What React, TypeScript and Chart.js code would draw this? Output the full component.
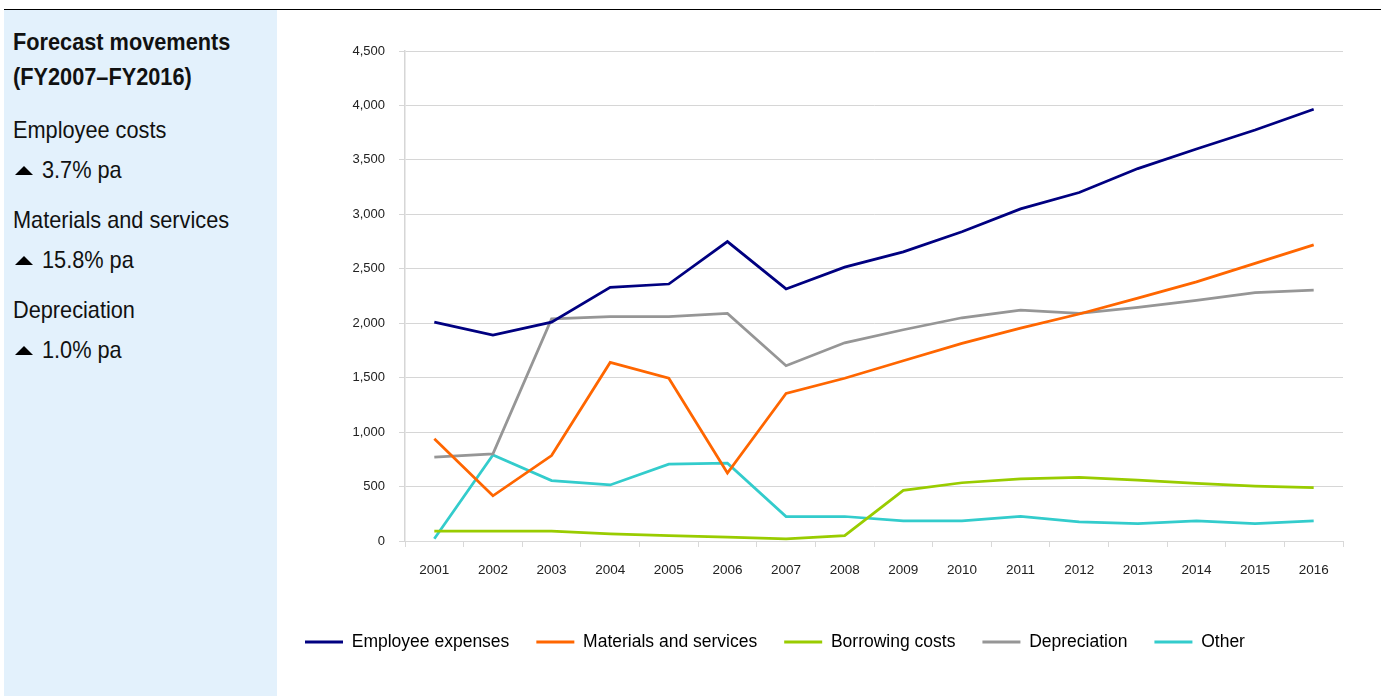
import React, { useEffect, useRef } from "react";
import { Chart, registerables } from "chart.js";

Chart.register(...registerables);

const years = ["2001","2002","2003","2004","2005","2006","2007","2008","2009","2010","2011","2012","2013","2014","2015","2016"];
const employeeExpenses = [2010, 1890, 2010, 2330, 2360, 2750, 2315, 2515, 2655, 2840, 3050, 3200, 3420, 3600, 3775, 3965];
const materialsServices = [940, 415, 785, 1640, 1495, 625, 1355, 1495, 1655, 1815, 1955, 2085, 2230, 2380, 2550, 2720];
const borrowingCosts = [90, 90, 90, 65, 50, 35, 20, 50, 465, 535, 570, 585, 560, 530, 505, 490];
const depreciation = [770, 800, 2040, 2060, 2060, 2090, 1610, 1820, 1940, 2050, 2120, 2090, 2145, 2210, 2280, 2305];
const other = [20, 790, 555, 515, 705, 715, 225, 225, 185, 185, 225, 175, 160, 185, 160, 185];
const yTicks = [0, 500, 1000, 1500, 2000, 2500, 3000, 3500, 4000, 4500];

const seriesNames = ["Employee expenses", "Materials and services", "Borrowing costs", "Depreciation", "Other"];
const seriesColors = ["#000080", "#FF6600", "#99CC00", "#969696", "#33CCCC"];

const sideHeading = ["Forecast movements", "(FY2007–FY2016)"];
const sideItems = [
  { label: "Employee costs", change: "3.7% pa" },
  { label: "Materials and services", change: "15.8% pa" },
  { label: "Depreciation", change: "1.0% pa" },
];

const CANVAS_LEFT = 278;
const CANVAS_TOP = 10;
const CANVAS_W = 1103;
const CANVAS_H = 686;

export default function App() {
  const ref = useRef<HTMLCanvasElement | null>(null);

  useEffect(() => {
    if (!ref.current) return;
    const allSeries = [employeeExpenses, materialsServices, borrowingCosts, depreciation, other];
    const chart = new Chart(ref.current, {
      type: "line",
      data: {
        labels: years,
        datasets: allSeries.map((d, i) => ({
          label: seriesNames[i],
          data: d,
          borderColor: seriesColors[i],
          backgroundColor: seriesColors[i],
          borderWidth: 2.75,
          pointRadius: 0,
          tension: 0,
          fill: false,
        })),
      },
      options: {
        responsive: false,
        animation: false,
        devicePixelRatio: 1,
        layout: { padding: { left: 0, right: 38, top: 41, bottom: 35.25 } },
        plugins: {
          tooltip: { enabled: false },
          legend: {
            position: "bottom",
            align: "start",
            labels: {
              boxWidth: 38,
              boxHeight: 3,
              padding: 27,
              color: "#000",
              font: { family: "'Liberation Sans', Arial, sans-serif", size: 17.5 },
              generateLabels: (c: any) =>
                (Chart.defaults.plugins.legend.labels as any).generateLabels(c).map((l: any) => ({
                  ...l,
                  lineWidth: 0,
                  fillStyle: l.strokeStyle,
                })),
            },
          },
        },
        scales: {
          x: {
            offset: true,
            grid: {
              offset: true,
              drawOnChartArea: false,
              drawTicks: true,
              tickLength: 6,
              color: "#D9D9D9",
            },
            border: { color: "#D9D9D9", width: 1 },
            ticks: {
              color: "#222",
              padding: 15,
              maxRotation: 0,
              autoSkip: false,
              font: { family: "'Liberation Sans', Arial, sans-serif", size: 13.5 },
            },
            afterFit: (s: any) => {
              s.height = 65.25;
            },
          },
          y: {
            min: 0,
            max: 4500,
            afterBuildTicks: (s: any) => {
              s.ticks = yTicks.map((v) => ({ value: v }));
            },
            grid: {
              color: "#D6D6D6",
              drawTicks: true,
              tickLength: 6,
            },
            border: { color: "#D6D6D6", width: 1.5 },
            ticks: {
              color: "#222",
              padding: 14,
              font: { family: "'Liberation Sans', Arial, sans-serif", size: 13 },
              callback: (v: any) => Number(v).toLocaleString("en-US"),
            },
            afterFit: (s: any) => {
              s.width = 127;
            },
          },
        },
      },
    });
    return () => chart.destroy();
  }, []);

  const font = "'Liberation Sans', Arial, sans-serif";
  const fs = 24;
  const headingCenters = [42, 77];
  const labelCenters = [130, 220, 310];
  const changeCenters = [170, 260, 350];
  const textStyle = (center: number, left: number, bold = false): React.CSSProperties => ({
    position: "absolute",
    left,
    top: center - 11.7,
    fontSize: fs,
    lineHeight: `${fs}px`,
    fontWeight: bold ? "bold" : "normal",
    color: "#111",
    whiteSpace: "nowrap",
    transform: "scaleX(0.905)",
    transformOrigin: "left center",
  });

  return (
    <div style={{ position: "absolute", left: 0, top: 0, width: 1381, height: 696, overflow: "hidden", background: "#fff", fontFamily: font }}>
      <div style={{ position: "absolute", left: 4, top: 9, width: 1377, height: 1, background: "#000" }} />
      <div style={{ position: "absolute", left: 4, top: 10, width: 273, height: 686, background: "#E3F1FC" }} />
      {sideHeading.map((t, i) => (
        <div key={t} style={textStyle(headingCenters[i], 13, true)}>{t}</div>
      ))}
      {sideItems.map((it, i) => (
        <React.Fragment key={it.label}>
          <div style={textStyle(labelCenters[i], 13)}>{it.label}</div>
          <div style={{ position: "absolute", left: 15, top: changeCenters[i] - 4.5, width: 0, height: 0, borderLeft: "9px solid transparent", borderRight: "9px solid transparent", borderBottom: "9px solid #000" }} />
          <div style={textStyle(changeCenters[i], 42)}>{it.change}</div>
        </React.Fragment>
      ))}
      <canvas ref={ref} width={CANVAS_W} height={CANVAS_H} style={{ position: "absolute", left: CANVAS_LEFT, top: CANVAS_TOP, width: CANVAS_W, height: CANVAS_H }} />
    </div>
  );
}
